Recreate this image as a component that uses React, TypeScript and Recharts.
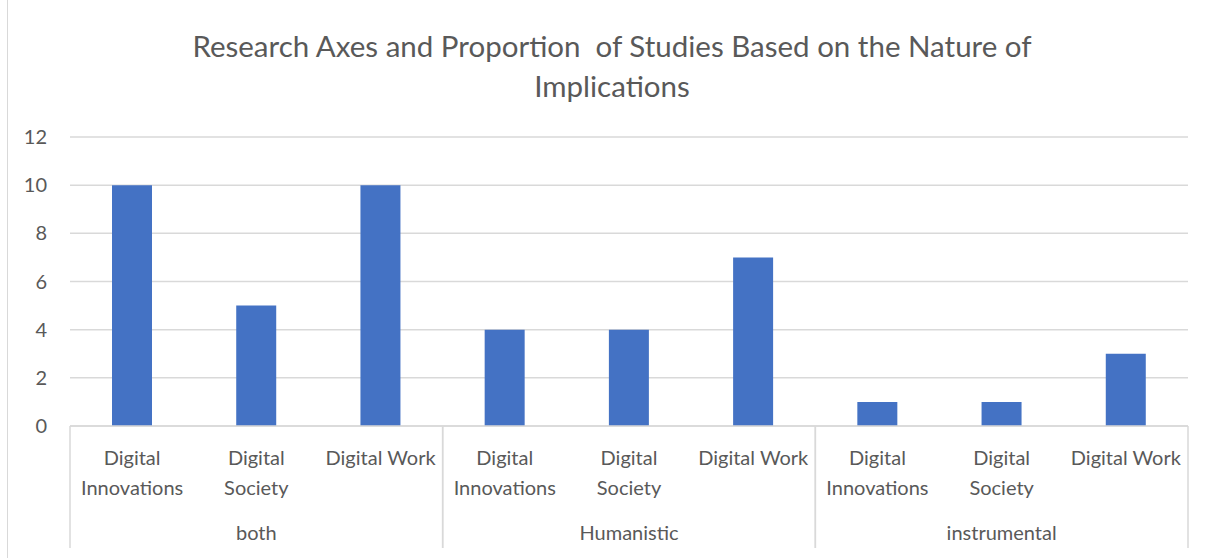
import { BarChart, Bar, XAxis, YAxis, CartesianGrid } from 'recharts';

// categories in chart order, grouped by nature of implications
const groups = ['both', 'Humanistic', 'instrumental'];
const axes = ['Digital Innovations', 'Digital Society', 'Digital Work'];
const counts = [10, 5, 10, 4, 4, 7, 1, 1, 3];
const yTicks = [0, 2, 4, 6, 8, 10, 12];

const data = counts.map((value, i) => ({
  name: axes[i % axes.length],
  group: groups[Math.floor(i / axes.length)],
  value,
}));

const FONT = 'Lato, "Open Sans", sans-serif';
const TEXT = '#595959';
const LINE = '#d9d9d9';

const W = 1207;
const H = 558;
const MARGIN = { top: 137, right: 19, bottom: 0, left: 10 };
const Y_W = 60;
const band = (W - MARGIN.left - MARGIN.right - Y_W) / data.length;

function AxisTick(props: any) {
  const { x, y, payload } = props;
  const label: string = payload.value;
  const lines = label.length > 12 ? label.split(' ') : [label];
  return (
    <g>
      {lines.map((l, i) => (
        <text
          key={i}
          x={x}
          y={y + 31 + i * 30}
          textAnchor="middle"
          dominantBaseline="central"
          fill={TEXT}
          fontSize={20}
          fontFamily={FONT}
        >
          {l}
        </text>
      ))}
    </g>
  );
}

// second level: group name under the middle category, separators at group edges
function GroupTick(props: any) {
  const { x, y, index } = props;
  const n = axes.length;
  const pos = index % n;
  const gi = Math.floor(index / n);
  return (
    <g>
      {pos === 0 && (
        <line x1={x - band / 2} x2={x - band / 2} y1={y - 75} y2={y + 47} stroke={LINE} strokeWidth={1.5} />
      )}
      {pos === n - 1 && (
        <line x1={x + band / 2} x2={x + band / 2} y1={y - 75} y2={y + 47} stroke={LINE} strokeWidth={1.5} />
      )}
      {pos === Math.floor(n / 2) && (
        <text
          x={x}
          y={y + 31}
          textAnchor="middle"
          dominantBaseline="central"
          fill={TEXT}
          fontSize={20}
          fontFamily={FONT}
        >
          {groups[gi]}
        </text>
      )}
    </g>
  );
}

export default function App() {
  return (
    <div style={{ position: 'absolute', left: 0, top: 0, width: W, height: H, background: '#fff' }}>
      <div style={{ position: 'absolute', left: 7, top: 0, width: 1, height: H, background: LINE }} />
      <div
        style={{
          position: 'absolute',
          left: 112,
          width: 1000,
          top: 26,
          textAlign: 'center',
          fontFamily: FONT,
          fontSize: 29.5,
          lineHeight: '40px',
          color: TEXT,
        }}
      >
        <div>Research Axes and Proportion&nbsp; of Studies Based on the Nature of</div>
        <div>Implications</div>
      </div>
      <BarChart width={W} height={H} data={data} margin={MARGIN} barSize={40}>
        <CartesianGrid vertical={false} stroke={LINE} strokeWidth={1.5} />
        <YAxis
          width={Y_W}
          domain={[0, 12]}
          ticks={yTicks}
          axisLine={false}
          tickLine={false}
          tickSize={0}
          tickMargin={23}
          tick={{ fill: TEXT, fontSize: 20, fontFamily: FONT }}
        />
        <XAxis
          dataKey="name"
          height={75}
          interval={0}
          tickLine={false}
          tickSize={0}
          tickMargin={0}
          axisLine={{ stroke: LINE, strokeWidth: 1.5 }}
          tick={<AxisTick />}
        />
        <XAxis
          xAxisId="g"
          dataKey="group"
          height={57}
          interval={0}
          axisLine={false}
          tickLine={false}
          tickSize={0}
          tickMargin={0}
          tick={<GroupTick />}
        />
        <Bar dataKey="value" fill="#4472C4" isAnimationActive={false} />
      </BarChart>
    </div>
  );
}
